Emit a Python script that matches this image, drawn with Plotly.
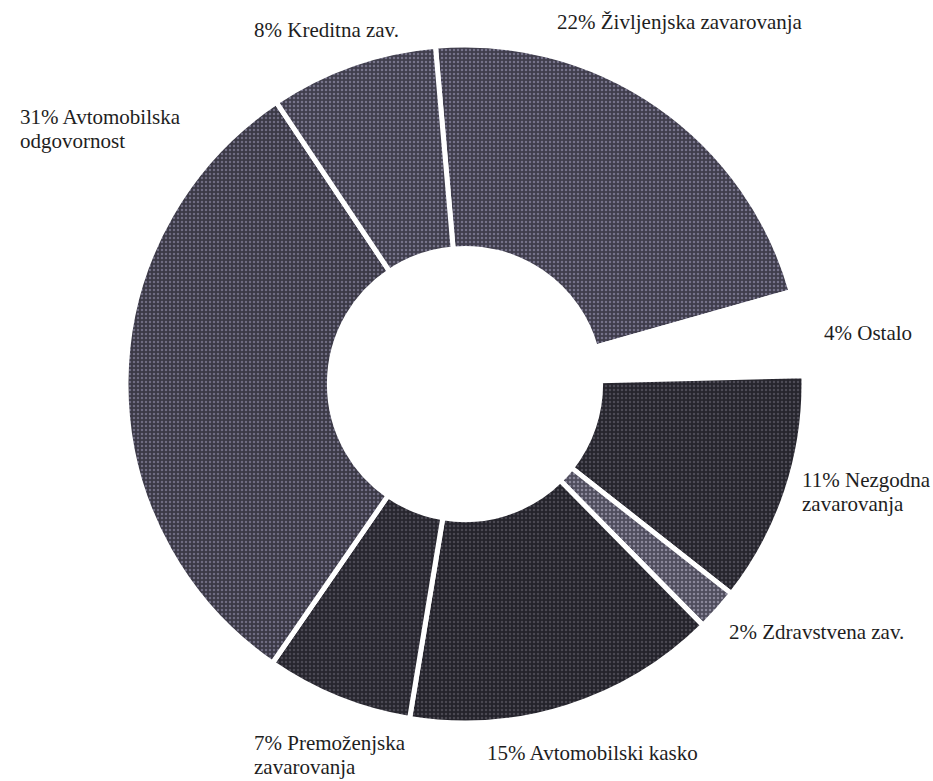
import plotly.graph_objects as go

# ---- data ----
categories = ["Življenjska zavarovanja", "Ostalo", "Nezgodna zavarovanja",
              "Zdravstvena zav.", "Avtomobilski kasko", "Premoženjska zavarovanja",
              "Avtomobilska odgovornost", "Kreditna zav."]
shares = [22, 4, 11, 2, 15, 7, 31, 8]
label_lines = [
    ["22% Življenjska zavarovanja"],
    ["4% Ostalo"],
    ["11% Nezgodna", "zavarovanja"],
    ["2% Zdravstvena zav."],
    ["15% Avtomobilski kasko"],
    ["7% Premoženjska", "zavarovanja"],
    ["31% Avtomobilska", "odgovornost"],
    ["8% Kreditna zav."],
]

# ---- styles ----
W, H = 933, 781
slice_colors = ["#3f3d4c", "#ffffff", "#26252d", "#4f4d5d",
                "#24232b", "#27262e", "#3b3946", "#403e4d"]
speck_colors = ["#75728a", "#ffffff", "#4d4b56", "#8a879a",
                "#4a4852", "#4b4954", "#6f6c82", "#77748b"]
# label anchor (left x, centre y of first line) in pixels
label_pos = [(555, 22), (822, 333), (800, 480), (727, 632),
             (485, 753), (252, 743), (18, 117), (252, 30)]
line_gap = 24

cx, cy, R = 465, 384, 339

fig = go.Figure(go.Pie(
    labels=categories,
    values=shares,
    sort=False,
    direction="clockwise",
    rotation=-5,
    hole=0.40,
    textinfo="none",
    hoverinfo="label+percent",
    showlegend=False,
    marker=dict(
        colors=slice_colors,
        line=dict(color="white", width=5),
        pattern=dict(shape=".", fgcolor=speck_colors, bgcolor=slice_colors,
                     size=4, solidity=0.3, fillmode="replace"),
    ),
    domain=dict(x=[(cx - R) / W, (cx + R) / W],
                y=[1 - (cy + R) / H, 1 - (cy - R) / H]),
))

annotations = []
for lines, (lx, ly) in zip(label_lines, label_pos):
    for i, t in enumerate(lines):
        annotations.append(dict(
            text=t, x=lx / W, y=1 - (ly + i * line_gap) / H,
            xref="paper", yref="paper", xanchor="left", yanchor="middle",
            showarrow=False,
            font=dict(family="Liberation Serif", size=21, color="#1e1e1e"),
        ))

fig.update_layout(
    width=W, height=H,
    margin=dict(l=0, r=0, t=0, b=0),
    paper_bgcolor="white",
    plot_bgcolor="white",
    annotations=annotations,
)

fig.write_html("out.html")
